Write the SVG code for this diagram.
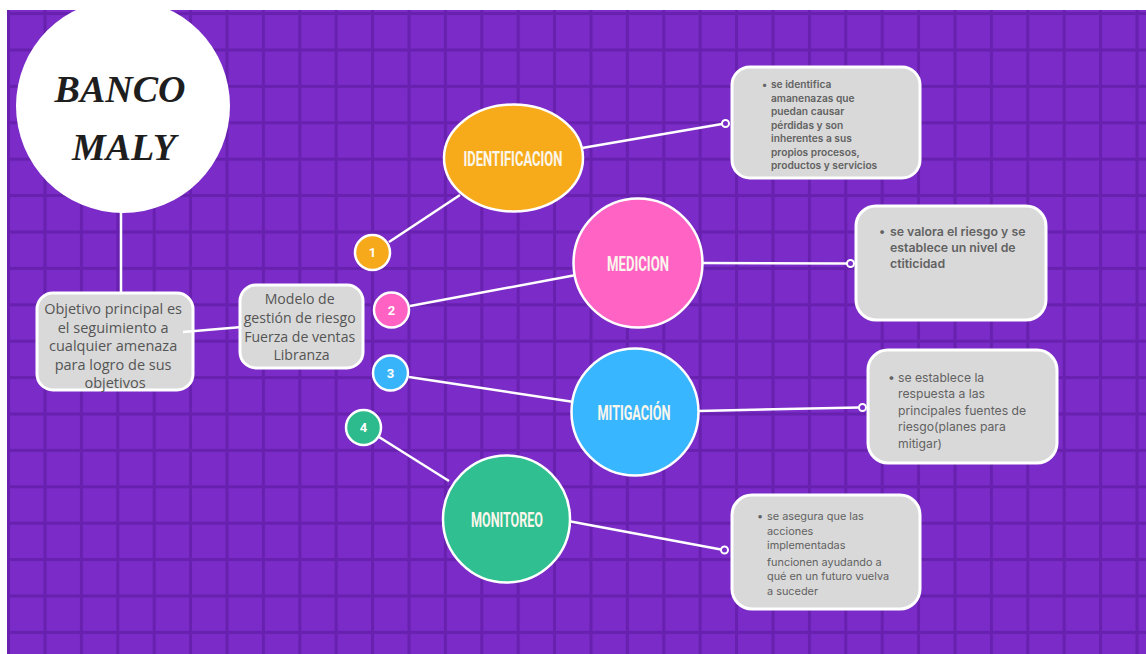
<svg xmlns="http://www.w3.org/2000/svg" width="1146" height="654" viewBox="0 0 1146 654">
  <defs>
    <pattern id="grid" patternUnits="userSpaceOnUse" x="7.1" y="12.1" width="36.4" height="36.4">
      <rect width="36.4" height="36.4" fill="#7a2bc8"/>
      <rect width="3" height="36.4" fill="#6820ae"/>
      <rect width="36.4" height="3" fill="#6820ae"/>
    </pattern>
    <style>
      .conn { stroke:#ffffff; stroke-width:2.5; fill:none; }
      .dot { stroke:#ffffff; stroke-width:2; fill:#7a2bc8; }
      .box { fill:#d9d9d9; stroke:#ffffff; stroke-width:3; }
      .title { font-family:"Liberation Serif", serif; font-weight:bold; font-style:italic; font-size:38px; fill:#1e1e1e; text-anchor:middle; }
      .center { font-family:"Open Sans", "Liberation Sans", sans-serif; fill:#555555; text-anchor:middle; }
      .big { stroke:#ffffff; stroke-width:2.5; }
      .lbl { font-family:"Roboto", "Liberation Sans", sans-serif; font-weight:bold; font-size:21px; fill:#fbf6ec; text-anchor:middle; }
      .num { font-family:"Roboto", "Liberation Sans", sans-serif; font-weight:bold; font-size:13px; fill:#ffffff; text-anchor:middle; }
      .numc { stroke:#ffffff; stroke-width:2.5; }
      .note { font-family:"Inter", "Liberation Sans", sans-serif; fill:#626262; }
    </style>
  </defs>
  <rect width="1146" height="654" fill="#ffffff"/>
  <rect x="7" y="10" width="1139" height="644" fill="url(#grid)"/>

  <g id="connectors">
    <line class="conn" x1="121" y1="210" x2="121" y2="294"/>
    <line class="conn" x1="389" y1="242" x2="460" y2="195"/>
    <line class="conn" x1="582" y1="148" x2="722" y2="124"/>
    <circle class="dot" cx="725.5" cy="123.5" r="3.5"/>
    <line class="conn" x1="410" y1="306" x2="576" y2="275"/>
    <line class="conn" x1="702" y1="263" x2="847" y2="263.5"/>
    <circle class="dot" cx="850.5" cy="263.5" r="3.5"/>
    <line class="conn" x1="409" y1="377" x2="574" y2="402"/>
    <line class="conn" x1="698" y1="411" x2="859" y2="407.5"/>
    <circle class="dot" cx="862.5" cy="407.5" r="3.5"/>
    <line class="conn" x1="379" y1="437" x2="449" y2="481"/>
    <line class="conn" x1="568" y1="521" x2="721" y2="549.5"/>
    <circle class="dot" cx="724.5" cy="550" r="3.5"/>
  </g>

  <g id="banco">
    <circle cx="123" cy="106" r="107" fill="#ffffff"/>
    <text class="title" x="120" y="102">BANCO</text>
    <text class="title" x="124" y="160">MALY</text>
  </g>

  <g id="objetivo">
    <rect class="box" x="37" y="293" width="156" height="97" rx="16"/>
    <text class="center" font-size="14.5">
      <tspan x="115" y="314">Objetivo principal es</tspan>
      <tspan x="115" y="332.5">el seguimiento a</tspan>
      <tspan x="115" y="351">cualquier amenaza</tspan>
      <tspan x="115" y="369.5">para logro de sus</tspan>
      <tspan x="115" y="388">objetivos</tspan>
    </text>
  </g>
  <line class="conn" x1="183" y1="332" x2="242" y2="327"/>

  <g id="modelo">
    <rect class="box" x="240" y="285" width="123" height="83" rx="16"/>
    <text class="center" font-size="14.1">
      <tspan x="301.5" y="304">Modelo de</tspan>
      <tspan x="301.5" y="323">gestión de riesgo</tspan>
      <tspan x="301.5" y="342">Fuerza de ventas</tspan>
      <tspan x="301.5" y="360">Libranza</tspan>
    </text>
  </g>

  <g id="n1">
    <circle class="numc" cx="372.5" cy="252.5" r="17.5" fill="#f6a91b"/>
    <text class="num" x="372.5" y="257">1</text>
  </g>
  <g id="n2">
    <circle class="numc" cx="391.5" cy="310" r="17.5" fill="#ff62c2"/>
    <text class="num" x="391.5" y="314.5">2</text>
  </g>
  <g id="n3">
    <circle class="numc" cx="390.5" cy="373" r="17.5" fill="#38b4fb"/>
    <text class="num" x="390.5" y="377.5">3</text>
  </g>
  <g id="n4">
    <circle class="numc" cx="363.5" cy="427.5" r="17.5" fill="#2dba8c"/>
    <text class="num" x="363.5" y="432">4</text>
  </g>

  <g id="identificacion">
    <ellipse class="big" cx="513.5" cy="158" rx="69.5" ry="53.5" fill="#f8ab1a"/>
    <text class="lbl" x="513" y="165.5" textLength="99" lengthAdjust="spacingAndGlyphs">IDENTIFICACION</text>
  </g>
  <g id="medicion">
    <circle class="big" cx="638" cy="263" r="64.5" fill="#ff64c4"/>
    <text class="lbl" x="638" y="270.5" textLength="62" lengthAdjust="spacingAndGlyphs">MEDICION</text>
  </g>
  <g id="mitigacion">
    <circle class="big" cx="635" cy="412" r="63.5" fill="#38b6ff"/>
    <text class="lbl" x="634" y="419.5" textLength="73" lengthAdjust="spacingAndGlyphs">MITIGACIÓN</text>
  </g>
  <g id="monitoreo">
    <circle class="big" cx="506.5" cy="519" r="63.5" fill="#2fbf90"/>
    <text class="lbl" x="507" y="526.5" textLength="72" lengthAdjust="spacingAndGlyphs">MONITOREO</text>
  </g>

  <g id="box1">
    <rect class="box" x="732" y="67" width="188" height="111" rx="18"/>
    <text class="note" font-size="10.2" font-weight="600">
      <tspan x="762" y="88">•</tspan>
      <tspan x="771" y="88">se identifica</tspan>
      <tspan x="771" y="101.5">amanenazas que</tspan>
      <tspan x="771" y="115">puedan causar</tspan>
      <tspan x="771" y="128.5">pérdidas y son</tspan>
      <tspan x="771" y="142">inherentes a sus</tspan>
      <tspan x="771" y="155.5">propios procesos,</tspan>
      <tspan x="771" y="169">productos y servicios</tspan>
    </text>
  </g>
  <g id="box2">
    <rect class="box" x="856" y="206" width="190" height="114" rx="20"/>
    <text class="note" font-size="12.3" font-weight="600">
      <tspan x="879" y="235.5">•</tspan>
      <tspan x="890" y="235.5">se valora el riesgo y se</tspan>
      <tspan x="890" y="252">establece un nivel de</tspan>
      <tspan x="890" y="268">ctiticidad</tspan>
    </text>
  </g>
  <g id="box3">
    <rect class="box" x="868" y="350" width="189" height="113" rx="20"/>
    <text class="note" font-size="12.2">
      <tspan x="888" y="381.5">•</tspan>
      <tspan x="898" y="381.5">se establece la</tspan>
      <tspan x="898" y="398">respuesta a las</tspan>
      <tspan x="898" y="414.5">principales fuentes de</tspan>
      <tspan x="898" y="431">riesgo(planes para</tspan>
      <tspan x="898" y="447.5">mitigar)</tspan>
    </text>
  </g>
  <g id="box4">
    <rect class="box" x="732" y="495" width="188" height="114" rx="20"/>
    <text class="note" font-size="10.9">
      <tspan x="757" y="520">•</tspan>
      <tspan x="767" y="520">se asegura que las</tspan>
      <tspan x="767" y="534.5">acciones</tspan>
      <tspan x="767" y="549">implementadas</tspan>
      <tspan x="767" y="565.5">funcionen ayudando a</tspan>
      <tspan x="767" y="580">qué en un futuro vuelva</tspan>
      <tspan x="767" y="594.5">a suceder</tspan>
    </text>
  </g>
</svg>
